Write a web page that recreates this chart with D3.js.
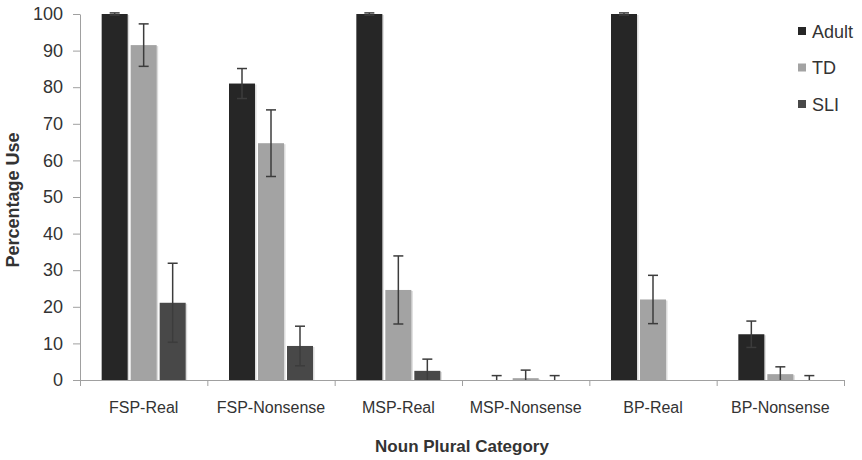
<!DOCTYPE html>
<html>
<head>
<meta charset="utf-8">
<script src="https://cdn.jsdelivr.net/npm/d3@7"></script>
<style>
  body { margin: 0; background: #fff; }
  text { font-family: "Liberation Sans", Arial, sans-serif; fill: #333; }
</style>
</head>
<body>
<div id="chart"></div>
<script>
// Values
var categories = ["FSP-Real", "FSP-Nonsense", "MSP-Real", "MSP-Nonsense", "BP-Real", "BP-Nonsense"];
var series = ["Adult", "TD", "SLI"];
var adultValues = [100, 81, 100, 0, 100, 12.5];
var adultErrors = [0.3, 4.1, 0.3, 1.2, 0.3, 3.6];
var tdValues = [91.5, 64.7, 24.6, 0.5, 22.0, 1.6];
var tdErrors = [5.8, 9.1, 9.3, 2.2, 6.6, 2.0];
var sliValues = [21.1, 9.3, 2.5, 0, 0, 0];
var sliErrors = [10.8, 5.4, 3.2, 1.2, 0, 1.2];
var yTicks = [0, 10, 20, 30, 40, 50, 60, 70, 80, 90, 100];

var color = d3.scaleOrdinal()
              .domain(series)
              .range(["#262626", "#a3a3a3", "#484848"]);

var width = 862,
    height = 460,
    plotLeft = 80,
    plotRight = 844,
    plotTop = 14,
    plotBottom = 380;

var svg = d3.select('#chart')
            .append('svg')
            .attr('width', width)
            .attr('height', height);

var x = d3.scaleBand()
          .domain(categories)
          .range([plotLeft, plotRight]);

var xSub = d3.scaleBand()
             .domain(series)
             .range([0, 84])
             .paddingInner(0.1034);

var y = d3.scaleLinear()
          .domain([0, 100])
          .range([plotBottom, plotTop]);

// one row per bar
var rows = [];
categories.forEach(function(c, i) {
  rows.push({cat: c, s: "Adult", v: adultValues[i], e: adultErrors[i]});
  rows.push({cat: c, s: "TD", v: tdValues[i], e: tdErrors[i]});
  rows.push({cat: c, s: "SLI", v: sliValues[i], e: sliErrors[i]});
});

function barX(d) {
  return x(d.cat) + (x.bandwidth() - 84) / 2 + xSub(d.s);
}

// soft shadow like the original
svg.append('g')
  .selectAll('rect')
  .data(rows.filter(function(d) { return d.v > 0; }))
  .enter().append('rect')
    .attr('x', function(d) { return barX(d) + 1.5; })
    .attr('y', function(d) { return y(d.v) + 1; })
    .attr('width', xSub.bandwidth())
    .attr('height', function(d) { return y(0) - y(d.v); })
    .attr('fill', '#dcdcdc');

svg.append('g')
  .selectAll('rect')
  .data(rows)
  .enter().append('rect')
    .attr('x', barX)
    .attr('y', function(d) { return y(d.v); })
    .attr('width', xSub.bandwidth())
    .attr('height', function(d) { return y(0) - y(d.v); })
    .attr('fill', function(d) { return color(d.s); });

// error bars
var err = svg.append('g')
             .attr('stroke', '#3c3c3c')
             .attr('stroke-width', 1.5)
             .selectAll('g')
             .data(rows.filter(function(d) { return d.e > 0; }))
             .enter().append('g');

function cx(d) { return barX(d) + xSub.bandwidth() / 2; }
function lo(d) { return y(Math.max(0, d.v - d.e)); }
function hi(d) { return y(d.v + d.e); }

err.append('line')
   .attr('x1', cx).attr('x2', cx)
   .attr('y1', lo).attr('y2', hi);
err.append('line')
   .attr('x1', function(d) { return cx(d) - 5; })
   .attr('x2', function(d) { return cx(d) + 5; })
   .attr('y1', hi).attr('y2', hi);
err.filter(function(d) { return d.v - d.e > 0; })
   .append('line')
   .attr('x1', function(d) { return cx(d) - 5; })
   .attr('x2', function(d) { return cx(d) + 5; })
   .attr('y1', lo).attr('y2', lo);

// axes
var yAxis = d3.axisLeft(y)
              .tickValues(yTicks)
              .tickSizeInner(7)
              .tickSizeOuter(0)
              .tickPadding(10);

var gy = svg.append('g')
            .attr('transform', 'translate(' + plotLeft + ',0)')
            .call(yAxis);
gy.selectAll('text').style('font-size', '18px').attr('fill', '#333');
gy.selectAll('line, path').attr('stroke', '#a0a0a0');

var idx = d3.scaleLinear()
            .domain([0, categories.length])
            .range([plotLeft, plotRight]);

var gxTicks = svg.append('g')
                 .attr('transform', 'translate(0,' + plotBottom + ')')
                 .call(d3.axisBottom(idx).ticks(6).tickSizeInner(6).tickSizeOuter(0).tickFormat(''));
gxTicks.selectAll('line, path').attr('stroke', '#a0a0a0');

var gx = svg.append('g')
            .attr('transform', 'translate(0,' + plotBottom + ')')
            .call(d3.axisBottom(x).tickSize(0).tickPadding(22));
gx.select('.domain').remove();
gx.selectAll('text').style('font-size', '16px').attr('fill', '#333');

// axis titles
svg.append('text')
   .attr('x', 462)
   .attr('y', 452)
   .attr('text-anchor', 'middle')
   .style('font-size', '17px')
   .style('font-weight', 'bold')
   .text('Noun Plural Category');

svg.append('text')
   .attr('transform', 'translate(19,' + 200 + ') rotate(-90)')
   .attr('text-anchor', 'middle')
   .style('font-size', '18px')
   .style('font-weight', 'bold')
   .text('Percentage Use');

// legend
var legend = svg.append('g')
                .selectAll('g')
                .data(series)
                .enter().append('g')
                  .attr('transform', function(d, i) { return 'translate(798,' + (31 + i * 36.5) + ')'; });

legend.append('rect')
      .attr('x', 0)
      .attr('y', -4)
      .attr('width', 8)
      .attr('height', 8)
      .attr('fill', function(d) { return color(d); });

legend.append('text')
      .attr('x', 14)
      .attr('y', 6.5)
      .style('font-size', '18px')
      .text(function(d) { return d; });
</script>
</body>
</html>
